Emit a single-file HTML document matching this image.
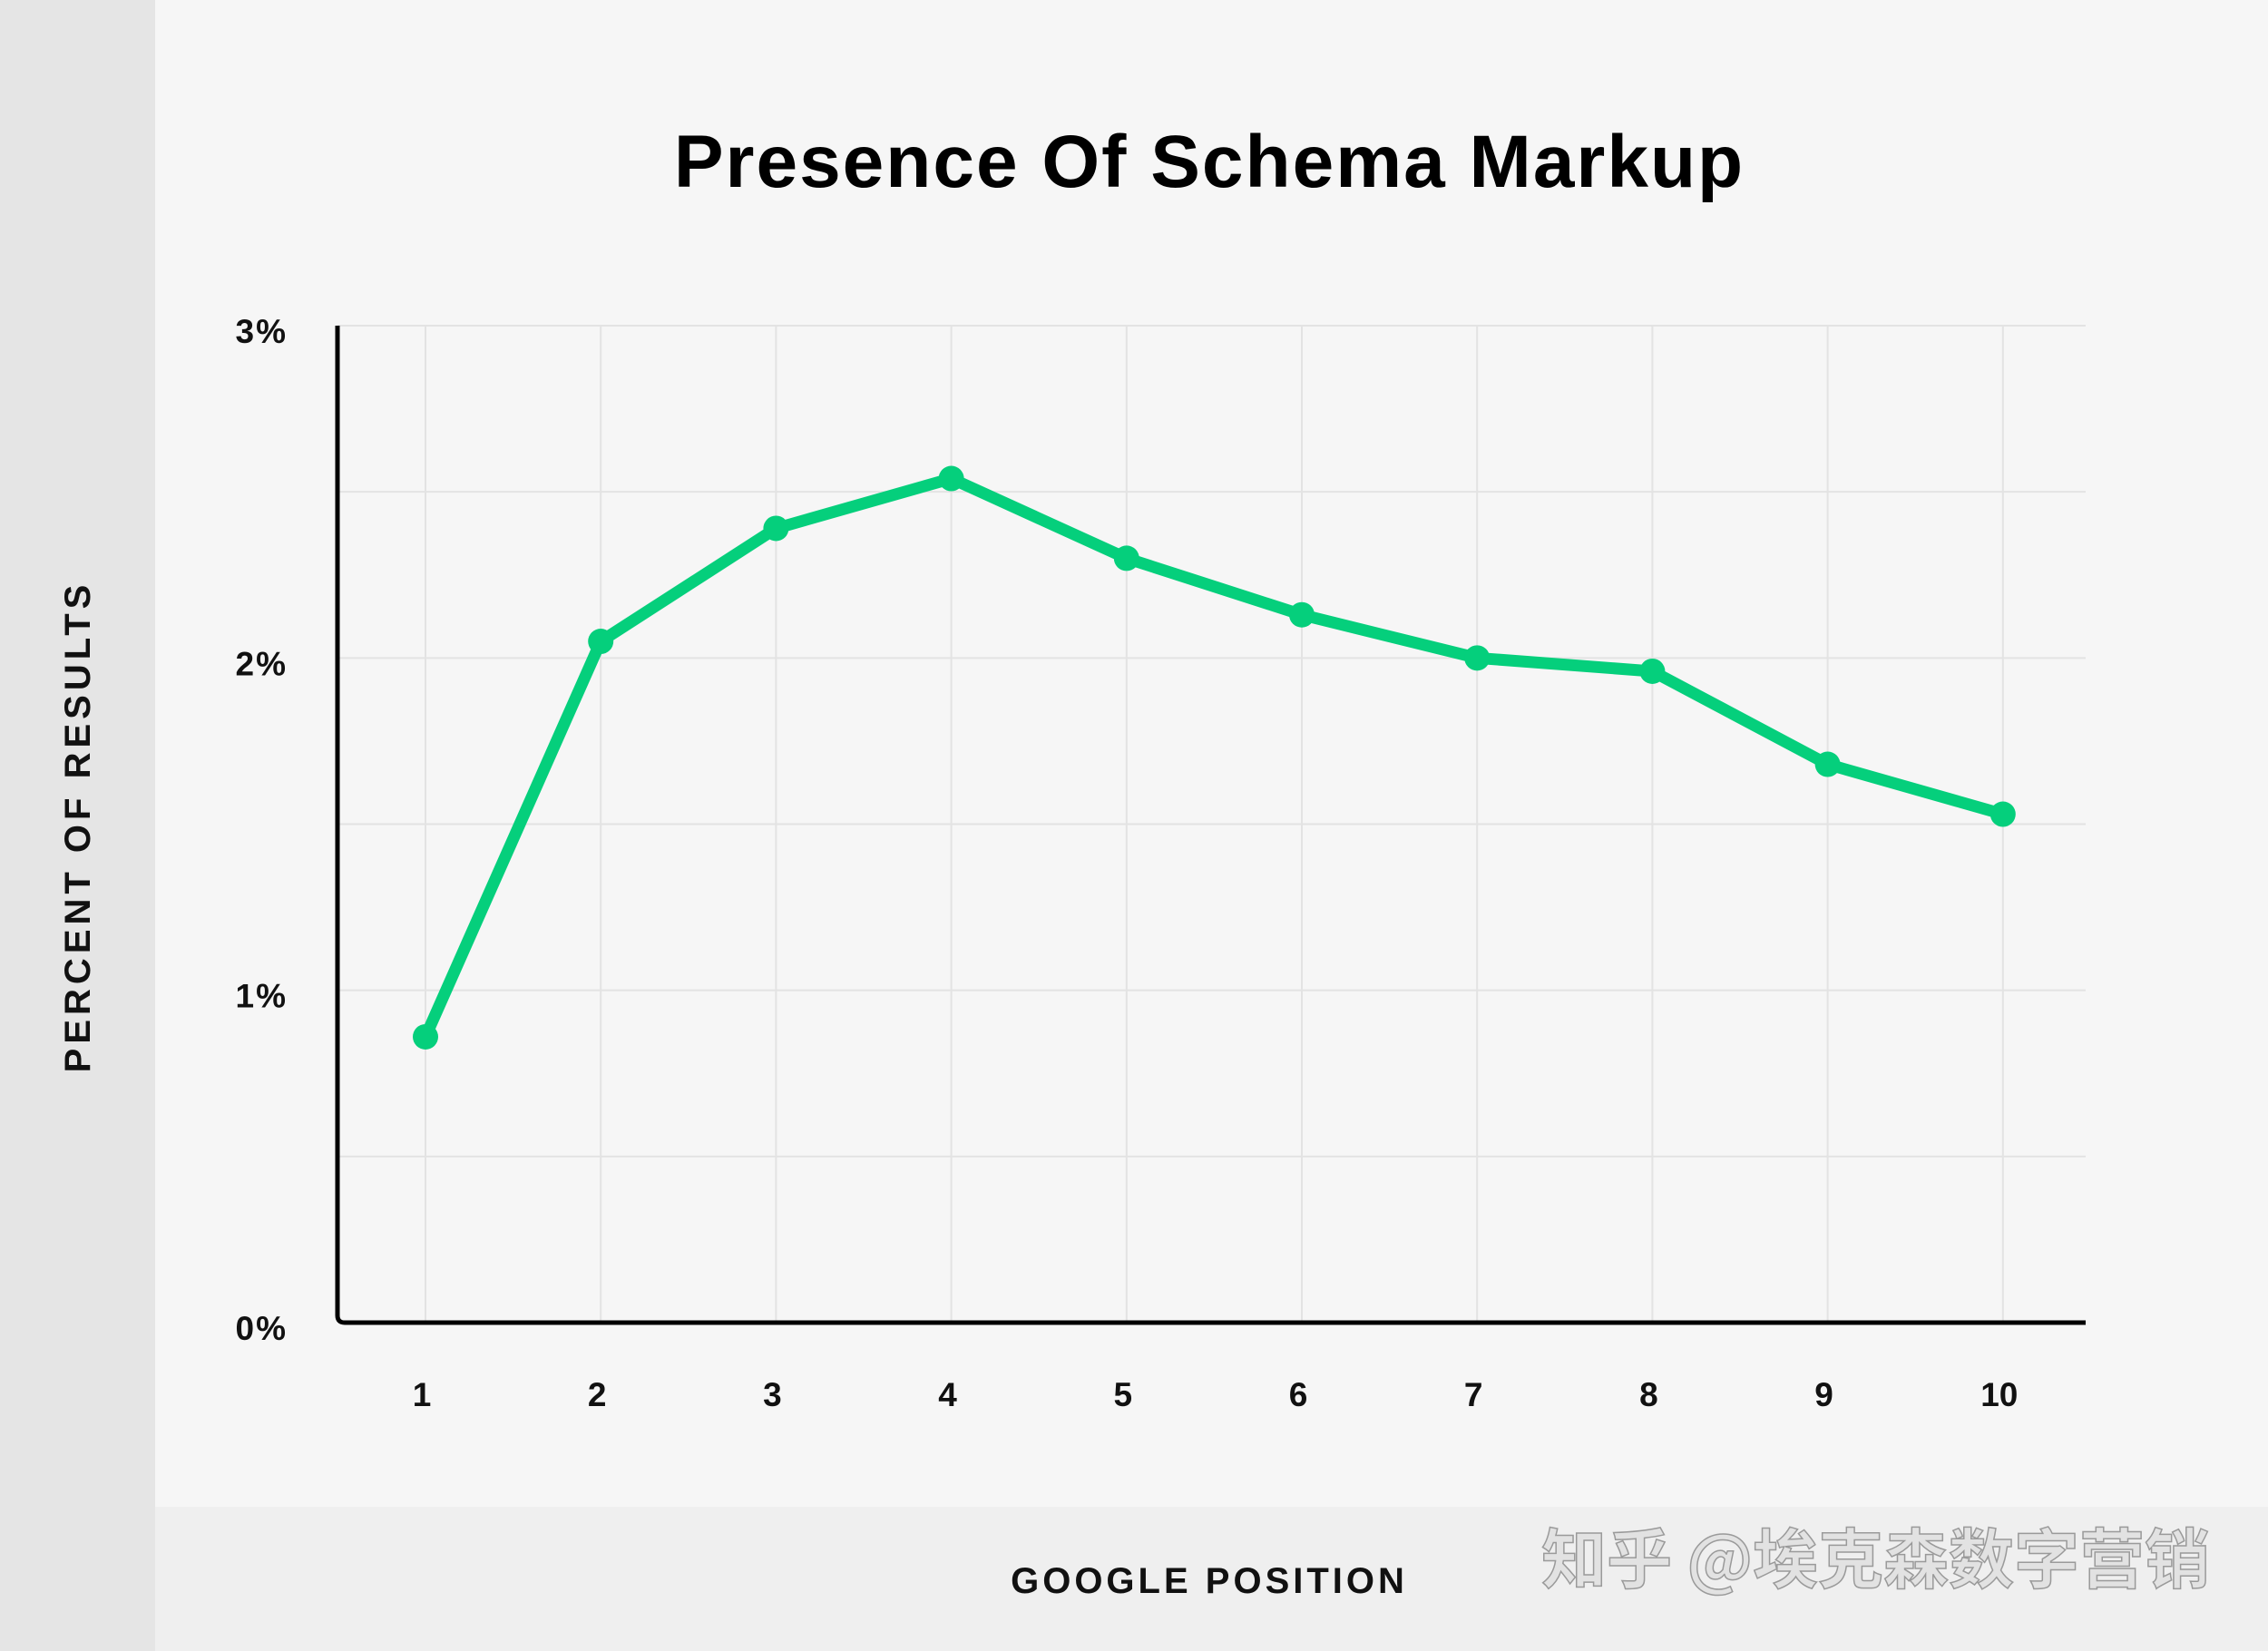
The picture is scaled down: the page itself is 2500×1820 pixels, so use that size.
<!DOCTYPE html>
<html><head><meta charset="utf-8"><style>
html,body{margin:0;padding:0;width:2500px;height:1820px;overflow:hidden;background:#f6f6f6;font-family:"Liberation Sans","Noto Sans CJK SC",sans-serif}
</style></head><body>
<svg width="2500" height="1820" viewBox="0 0 2500 1820">
<rect x="0" y="0" width="2500" height="1820" fill="#f6f6f6"/>
<rect x="0" y="0" width="171" height="1820" fill="#e5e5e5"/>
<rect x="171" y="1661" width="2329" height="159" fill="#efefef"/>
<text x="1333" y="206" text-anchor="middle" font-size="82" font-weight="bold" letter-spacing="2" fill="#000">Presence Of Schema Markup</text>
<text transform="translate(99,911) rotate(-90)" text-anchor="middle" font-size="40" font-weight="bold" letter-spacing="5" fill="#111">PERCENT OF RESULTS</text>
<text x="1333" y="1756" text-anchor="middle" font-size="40" font-weight="bold" letter-spacing="4" fill="#111">GOOGLE POSITION</text>
<text x="2436" y="1745" text-anchor="end" font-size="72" font-weight="bold" fill="#e2e2e2" stroke="#9a9a9a" stroke-width="1.5" font-family="'Noto Sans CJK SC',sans-serif">知乎 @埃克森数字营销</text>
<g id="grid"></g>
<g id="plot"></g>
</svg>
<script>
const categories = [1,2,3,4,5,6,7,8,9,10];
const values = [0.86,2.05,2.39,2.54,2.30,2.13,2.00,1.96,1.68,1.53];
const yTicks = [0,1,2,3];
const yTickLabels = ["0%","1%","2%","3%"];
const NS="http://www.w3.org/2000/svg";
const X0=372,X1=2299,Y0=1458,Y1=359,YMAX=3;
function xs(c){return 469+(c-1)*193.2;}
function ys(v){return Y0-(v/YMAX)*(Y0-Y1);}
function mk(tag,attrs,parent){const e=document.createElementNS(NS,tag);for(const k in attrs)e.setAttribute(k,attrs[k]);parent.appendChild(e);return e;}
const grid=document.getElementById('grid'), plot=document.getElementById('plot');
for(let v=0.5;v<=YMAX;v+=0.5){
  const l=mk('line',{x1:X0,x2:X1,y1:ys(v),y2:ys(v),stroke:'#e3e3e3','stroke-width':2},grid);
  
  
}
categories.forEach(c=>{
  const l=mk('line',{x1:xs(c),x2:xs(c),y1:Y1,y2:Y0,stroke:'#e3e3e3','stroke-width':2},grid);
  
  
  const t=mk('text',{x:xs(c)-4,y:1550,'text-anchor':'middle','font-size':37,'font-weight':'bold',fill:'#111'},grid);
  t.textContent=c;
  
  
});
yTicks.forEach((v,i)=>{
  const t=mk('text',{x:317,y:ys(v)+19,'text-anchor':'end','font-size':37,'font-weight':'bold',fill:'#111','letter-spacing':2},grid);
  t.textContent=yTickLabels[i];
  
  
});
const ax=mk('path',{d:`M${X0} ${Y1} L${X0} ${Y0-8} Q${X0} ${Y0} ${X0+8} ${Y0} L${X1} ${Y0}`,fill:'none',stroke:'#000','stroke-width':5},plot);


const pts=categories.map((c,i)=>xs(c)+','+ys(values[i])).join(' ');
const pl=mk('polyline',{points:pts,fill:'none',stroke:'#05cf7c','stroke-width':13,'stroke-linejoin':'round','stroke-linecap':'round'},plot);


categories.forEach((c,i)=>{
  const d=mk('circle',{cx:xs(c),cy:ys(values[i]),r:14,fill:'#05cf7c'},plot);
  
  
});
</script>
</body></html>
